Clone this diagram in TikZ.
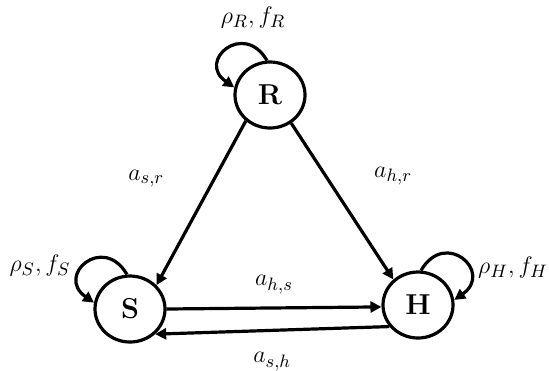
\documentclass[tikz,border=0pt]{standalone}
\usepackage{amsmath}
\usepackage{tikz}
\usetikzlibrary{arrows.meta,positioning,shapes.geometric}

\begin{document}
\begin{tikzpicture}[
    x=0.5pt, y=-0.5pt,
    state/.style={
        draw,
        ellipse,
        line width=1.6pt,
        minimum width=35pt,
        minimum height=33pt,
        font=\Large\bfseries
    },
    lab/.style={font=\fontsize{12.5}{15}\selectfont},
    arr/.style={-{Triangle[length=5.5pt,width=5.5pt]}, line width=1.6pt}
]
    \useasboundingbox (0,0) rectangle (549,370);
    %% States
    \node[state] (R) at (270,95) {R};
    \node[state] (S) at (130,309) {S};
    \node[state] (H) at (418,305) {H};

    %% Self loops
    \draw[arr] (R.95) to[out=120, in=145, looseness=2.8] (R.168);
    \draw[arr] (S.95) to[out=120, in=145, looseness=2.8] (S.170);
    \draw[arr] (H.85) to[out=60, in=35, looseness=2.8] (H.8);

    %% Loop labels
    \node[lab] (lR) at (253,17) {$\rho_R, f_R$};
    \node[lab] (lS) at (40,265) {$\rho_S, f_S$};
    \node[lab] (lH) at (513,267) {$\rho_H, f_H$};

    %% Transitions
    \draw[arr] (R.227) -- node[lab, pos=0.35, left=21pt] {$a_{s,r}$} (S.42);
    \draw[arr] (R.307) -- node[lab, pos=0.34, right=20pt] {$a_{h,r}$} (H.134);
    \draw[arr] (S.0) -- node[lab, above=3pt] {$a_{h,s}$} (H.183);
    \draw[arr] (H.217) -- node[lab, below=7pt] {$a_{s,h}$} (S.315);
\end{tikzpicture}
\end{document}
